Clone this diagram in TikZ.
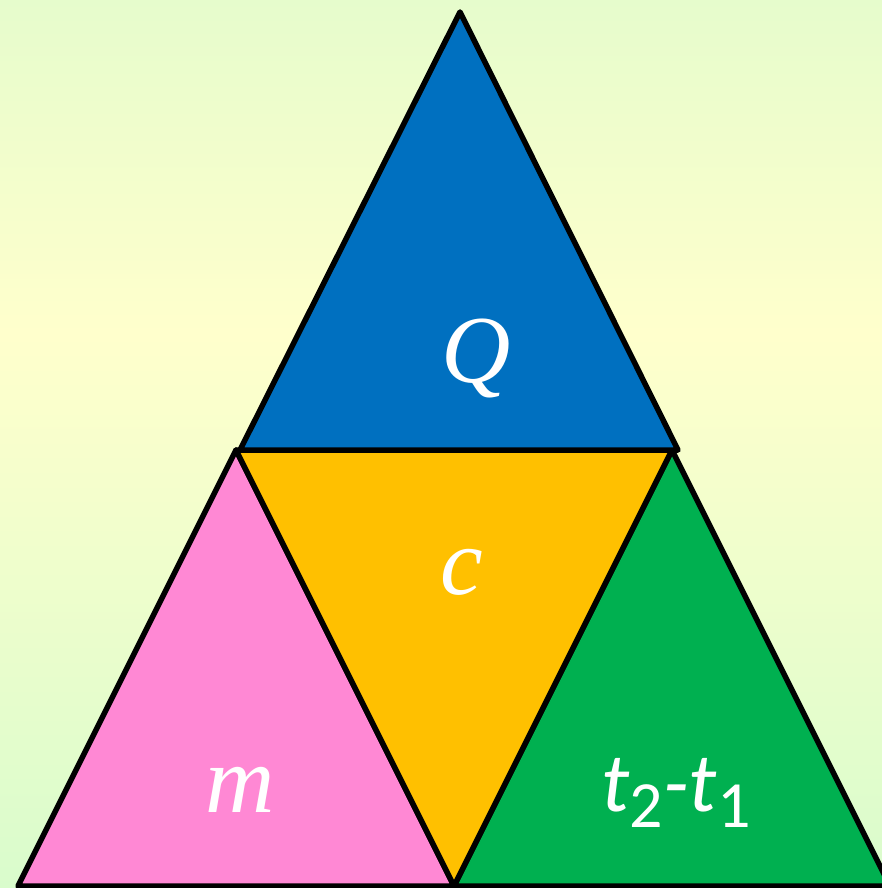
\documentclass[tikz,border=0pt]{standalone}
\usepackage{fontspec}
\newfontfamily\serifit{Liberation Serif}
\newfontfamily\sansit{Carlito}
\usepackage{tikz}
\usetikzlibrary{positioning, calc}
\definecolor{cBlue}{RGB}{0,112,192}
\definecolor{cGold}{RGB}{255,192,0}
\definecolor{cPink}{RGB}{255,136,212}
\definecolor{cGreen}{RGB}{0,176,80}
\definecolor{bgTop}{RGB}{230,252,204}
\definecolor{bgMid}{RGB}{255,255,204}
\definecolor{bgBot}{RGB}{217,252,204}
\newcommand{\subdig}[1]{\raisebox{-0.2em}{\upshape\fontsize{66}{66}\selectfont #1}}

\begin{document}
\begin{tikzpicture}[x=1pt, y=-1pt, line width=5.5pt, line join=round,
    lbl/.style={text=white, inner sep=0pt, font=\fontsize{96}{96}\selectfont\serifit\itshape},
    lblsans/.style={text=white, inner sep=0pt, font=\fontsize{84}{84}\selectfont\sansit\itshape}]
    \useasboundingbox (0,0) rectangle (882,888);
    % background
    \shade[top color=bgTop, bottom color=bgMid] (0,0) rectangle (882,334);
    \shade[top color=bgMid, bottom color=bgBot] (0,334) rectangle (882,888);
    % corners
    \coordinate (apex) at (460,12);
    \coordinate (qL) at (240,450);
    \coordinate (qR) at (678,450);
    \coordinate (mL) at (236,450);
    \coordinate (mR) at (672,450);
    \coordinate (bL) at (18,886);
    \coordinate (bM) at (454,886);
    \coordinate (bR) at (890,886);
    % pieces
    \filldraw[fill=cPink] (mL) -- (bM) -- (bL) -- cycle;
    \filldraw[fill=cGreen] (mR) -- (bR) -- (bM) -- cycle;
    \filldraw[fill=cGold] (mL) -- (mR) -- (bM) -- cycle;
    \filldraw[fill=cBlue] (apex) -- (qR) -- (qL) -- cycle;
    % labels
    \node[lbl] (heat) at (476,358) {Q};
    \node[lbl] (spec) at (462,572) {c};
    \node[lbl] (mass) at (240,790) {m};
    \node[lblsans] (dtemp) at (676,793) {t\subdig{2}-t\subdig{1}};
\end{tikzpicture}
\end{document}
